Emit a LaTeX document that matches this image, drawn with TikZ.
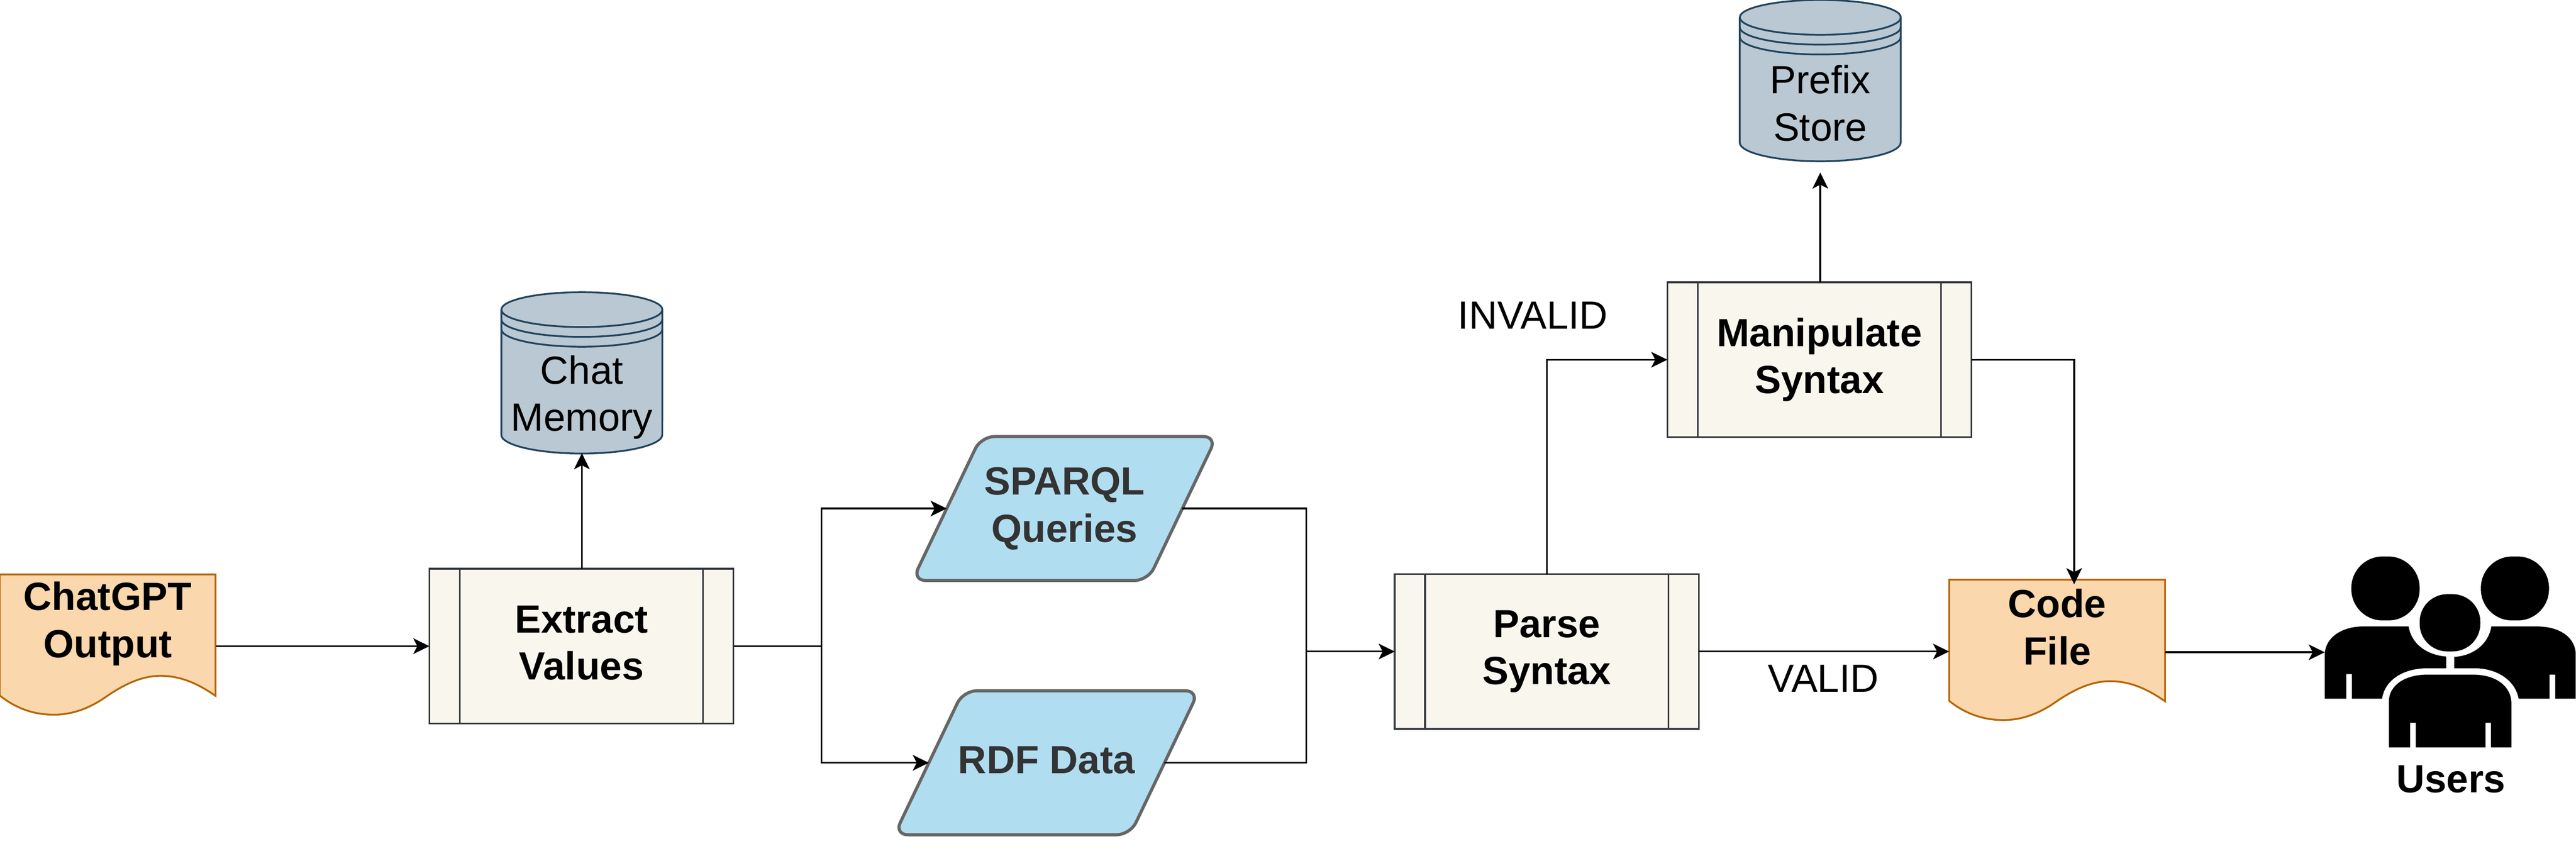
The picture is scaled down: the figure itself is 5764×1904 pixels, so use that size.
\documentclass[tikz,border=0pt]{standalone}
\usepackage{fontspec}
\setmainfont{Liberation Sans}
\usetikzlibrary{positioning, calc, arrows.meta}

\definecolor{procfill}{HTML}{F9F7ED}
\definecolor{procline}{HTML}{36393D}
\definecolor{docfill}{HTML}{FAD7AC}
\definecolor{docline}{HTML}{B46504}
\definecolor{dbfill}{HTML}{BAC8D3}
\definecolor{dbline}{HTML}{23445D}
\definecolor{datafill}{HTML}{B1DDF0}
\definecolor{dataline}{HTML}{666666}
\definecolor{datatext}{HTML}{333333}

\tikzset{
    basetxt/.style={font=\fontsize{25}{30}\selectfont, align=center, inner sep=0pt, outer sep=0pt},
    boldtxt/.style={basetxt, font=\fontsize{25}{30}\selectfont\bfseries},
    procbox/.style={boldtxt, draw=procline, fill=procfill, line width=0.04cm, minimum width=6.8cm, minimum height=3.46cm},
    docbox/.style={inner sep=0pt, outer sep=0pt, minimum width=4.83cm, minimum height=3.15cm},
    dbbox/.style={inner sep=0pt, outer sep=0pt, minimum width=3.6cm, minimum height=3.6cm},
    databox/.style={inner sep=0pt, outer sep=0pt, minimum width=5.27cm, minimum height=3.22cm},
    flow/.style={line width=0.04cm, -{Stealth[length=0.36cm, width=0.35cm, inset=0.09cm]}},
    link/.style={line width=0.04cm},
}

\begin{document}
\begin{tikzpicture}[x=0.01cm, y=-0.01cm]
    \useasboundingbox (0,0) rectangle (5764,1904);

    % boxes
    \node[docbox] (chat) at (241,1443) {};
    \node[docbox] (code) at (4603,1455) {};
    \node[dbbox] (memory) at (1302,834) {};
    \node[dbbox] (prefix) at (4073,180) {};
    \node[procbox] (extract) at (1301,1446) {};
    \node[procbox] (parse) at (3461,1458) {};
    \node[procbox] (manip) at (4071,805) {};
    \node[databox] (sparql) at (2382,1138) {};
    \node[databox] (rdf) at (2342,1707) {};

    % document wave
    \foreach \n in {chat,code} {
        \begin{scope}[shift={(\n.north west)}]
            \draw[draw=docline, fill=docfill, line width=0.04cm]
                (0,0) -- (483,0) -- (483,272)
                .. controls (450,249) and (410,227) .. (360,227)
                .. controls (315,227) and (275,249) .. (242,271)
                .. controls (210,294) and (170,314) .. (121,314)
                .. controls (75,314) and (35,299) .. (0,271) -- cycle;
        \end{scope}
    }

    % slanted data boxes
    \foreach \n in {sparql,rdf} {
        \draw[draw=dataline, fill=datafill, line width=0.07cm, rounded corners=0.3cm]
            ($(\n.north west)+(77,0)$) -- ($(\n.north east)+(77,0)$)
            -- ($(\n.south east)+(-77,0)$) -- ($(\n.south west)+(-77,0)$) -- cycle;
    }

    % database cylinder
    \foreach \n in {memory,prefix} {
        \begin{scope}[shift={(\n.north west)}, draw=dbline, line width=0.04cm]
            \draw[fill=dbfill] (0,39) arc[start angle=180, end angle=0, x radius=1.8cm, y radius=0.39cm]
                -- (360,319) arc[start angle=0, end angle=-180, x radius=1.8cm, y radius=0.42cm] -- cycle;
            \foreach \d in {39,61,83}
                \draw (0,\d) arc[start angle=180, end angle=360, x radius=1.8cm, y radius=0.39cm];
        \end{scope}
    }

    % bars of the process boxes
    \foreach \n in {extract,parse,manip} {
        \draw[draw=procline, line width=0.04cm] ($(\n.north west)+(68,0)$) -- ($(\n.south west)+(68,0)$);
        \draw[draw=procline, line width=0.04cm] ($(\n.north east)+(-68,0)$) -- ($(\n.south east)+(-68,0)$);
    }

    % texts
    \node[boldtxt] (chattxt) at ($(chat.center)+(0,-47)$) {ChatGPT\\Output};
    \node[boldtxt] (codetxt) at ($(code.center)+(0,-52)$) {Code\\File};
    \node[basetxt] (memorytxt) at ($(memory.center)+(0,55)$) {Chat\\Memory};
    \node[basetxt] (prefixtxt) at ($(prefix.center)+(0,51)$) {Prefix\\Store};
    \node[boldtxt] (extracttxt) at ($(extract.center)+(0,-7)$) {Extract\\Values};
    \node[boldtxt] (parsetxt) at (parse.center) {Parse\\Syntax};
    \node[boldtxt] (maniptxt) at (manip.center) {Manipulate\\Syntax};
    \node[boldtxt, text=datatext] (sparqltxt) at (sparql.center) {SPARQL\\Queries};
    \node[boldtxt, text=datatext] (rdftxt) at ($(rdf.center)+(0,-6)$) {RDF Data};
    \node[basetxt] (invalid) at (3430,706) {INVALID};
    \node[basetxt] (valid) at (4080,1518) {VALID};

    % users
    \begin{scope}[shift={(5100,1200)}, x=0.004248cm, y=-0.003846cm]
        \fill[rounded corners=0.7cm] (380,118) rectangle (740,490);
        \fill[rounded corners=0.7cm] (1063,118) rectangle (1422,490);
        \fill[rounded corners=0.62cm] (740,337) rectangle (1060,670);
        \fill (240,945) -- (240,690) .. controls (240,590) and (330,525) .. (440,525) -- (682,525)
            .. controls (695,620) and (770,690) .. (880,700) -- (880,768) -- (780,768)
            .. controls (650,768) and (555,840) .. (542,945) -- (383,945) -- (383,802) -- (353,802) -- (353,945) -- cycle;
        \fill (1563,945) -- (1563,690) .. controls (1563,590) and (1480,525) .. (1360,525) -- (1118,525)
            .. controls (1105,620) and (1030,695) .. (922,702) -- (922,768) -- (1030,768)
            .. controls (1150,768) and (1245,840) .. (1262,945) -- (1425,945) -- (1425,805) -- (1455,805) -- (1455,945) -- cycle;
        \fill (578,1228) -- (578,960) .. controls (578,870) and (660,805) .. (780,805) -- (1020,805)
            .. controls (1140,805) and (1224,870) .. (1224,975) -- (1224,1228) -- (1116,1228) -- (1116,1085) -- (1087,1085)
            -- (1087,1228) -- (720,1228) -- (720,1085) -- (690,1085) -- (690,1228) -- cycle;
        \coordinate (users) at (240,675);
    \end{scope}
    \node[boldtxt, anchor=base] (userstxt) at (5484,1773) {Users};

    % connectors
    \coordinate (split) at (1838,1446);
    \coordinate (merge) at (2923,1458);
    \draw[flow] (chat.east |- extract.west) -- (extract.west);
    \draw[flow] (memory.south |- extract.north) -- (memory.south);
    \draw[link] (extract.east) -- (split);
    \draw[flow] (split) |- (sparql.west);
    \draw[flow] (split) |- (rdf.west);
    \draw[link] (sparql.east) -| (merge);
    \draw[link] (rdf.east) -| (merge);
    \draw[flow] (merge) -- (parse.west);
    \draw[flow] (parse.east) -- (code.west |- parse.east);
    \draw[flow] (parse.north) |- (manip.west);
    \draw[flow] (prefix.south |- manip.north) -- ($(prefix.south)+(0,26)$);
    \draw[flow] (manip.east) -| ($(code.north)+(38,10)$);
    \draw[flow] (code.east |- users) -- (users);
\end{tikzpicture}
\end{document}
